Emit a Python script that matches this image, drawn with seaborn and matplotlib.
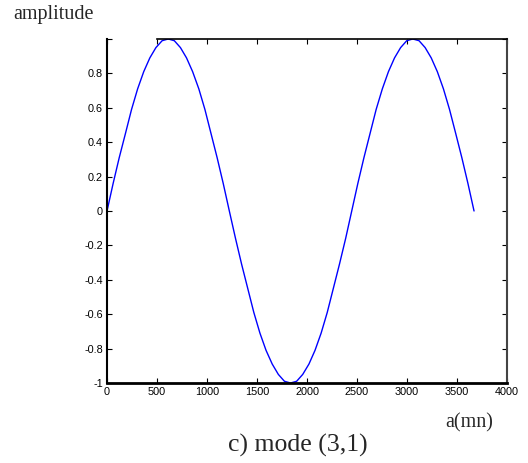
import matplotlib
matplotlib.use("Agg")
import matplotlib.pyplot as plt
import seaborn as sns
import pandas as pd

# values
a_mn = [0, 61, 122, 184, 245, 306, 367, 428, 489, 551, 612, 673, 734, 795, 856,
        918, 979, 1040, 1101, 1162, 1223, 1285, 1346, 1407, 1468, 1529, 1590,
        1652, 1713, 1774, 1835, 1896, 1957, 2019, 2080, 2141, 2202, 2263, 2324,
        2386, 2447, 2508, 2569, 2630, 2691, 2753, 2814, 2875, 2936, 2997, 3058,
        3120, 3181, 3242, 3303, 3364, 3425, 3487, 3548, 3609, 3670]
amplitude = [0.0, 0.16, 0.31, 0.45, 0.59, 0.71, 0.81, 0.89, 0.95, 0.99, 1.0,
             0.99, 0.95, 0.89, 0.81, 0.71, 0.59, 0.45, 0.31, 0.16, 0.0,
             -0.16, -0.31, -0.45, -0.59, -0.71, -0.81, -0.89, -0.95, -0.99, -1.0,
             -0.99, -0.95, -0.89, -0.81, -0.71, -0.59, -0.45, -0.31, -0.16, 0.0,
             0.16, 0.31, 0.45, 0.59, 0.71, 0.81, 0.89, 0.95, 0.99, 1.0,
             0.99, 0.95, 0.89, 0.81, 0.71, 0.59, 0.45, 0.31, 0.16, 0.0]

x_ticks = [0, 500, 1000, 1500, 2000, 2500, 3000, 3500, 4000]
y_ticks = [-1, -0.8, -0.6, -0.4, -0.2, 0, 0.2, 0.4, 0.6, 0.8, 1]
y_tick_labels = ["-1", "-0.8", "-0.6", "-0.4", "-0.2", "0", "0.2", "0.4", "0.6", "0.8", ""]

df = pd.DataFrame({"a": a_mn, "amp": amplitude})

sns.set_style("ticks")
plt.rcParams["font.family"] = ["Liberation Sans", "DejaVu Sans"]

fig = plt.figure(figsize=(5.28, 4.63), dpi=100)
ax = fig.add_axes([0.2027, 0.1728, 0.7576, 0.7430])

sns.lineplot(data=df, x="a", y="amp", color="#0000ff", linewidth=1.0, ax=ax)

ax.set_xlim(0, 4000)
ax.set_ylim(-1, 1)
ax.set_xticks(x_ticks)
ax.set_xticklabels([str(t) for t in x_ticks])
ax.set_yticks(y_ticks)
ax.set_yticklabels(y_tick_labels)
ax.tick_params(direction="in", length=3.5, width=0.8, labelsize=7.8, colors="black",
               top=True, right=True, pad=3)
ax.set_xlabel("")
ax.set_ylabel("")

for side in ["left", "right", "top", "bottom"]:
    ax.spines[side].set_visible(True)
    ax.spines[side].set_color("black")
ax.spines["left"].set_linewidth(1.5)
ax.spines["bottom"].set_linewidth(2.0)
ax.spines["right"].set_linewidth(1.5)
ax.spines["right"].set_color("#444444")
ax.spines["top"].set_linewidth(1.2)
ax.spines["top"].set_bounds(500, 4000)

serif = ["Liberation Serif", "DejaVu Serif"]
fig.text(13 / 528, 1 - 14 / 463, "amplitude", family=serif, fontsize=14.5, va="center", ha="left")
fig.text(469 / 528, 1 - 423 / 463, "a(mn)", family=serif, fontsize=14.5, va="center", ha="center")
fig.text(298 / 528, 1 - 445 / 463, "c) mode (3,1)", family=serif, fontsize=18.5, va="center", ha="center")

fig.savefig("out.png", dpi=100)
